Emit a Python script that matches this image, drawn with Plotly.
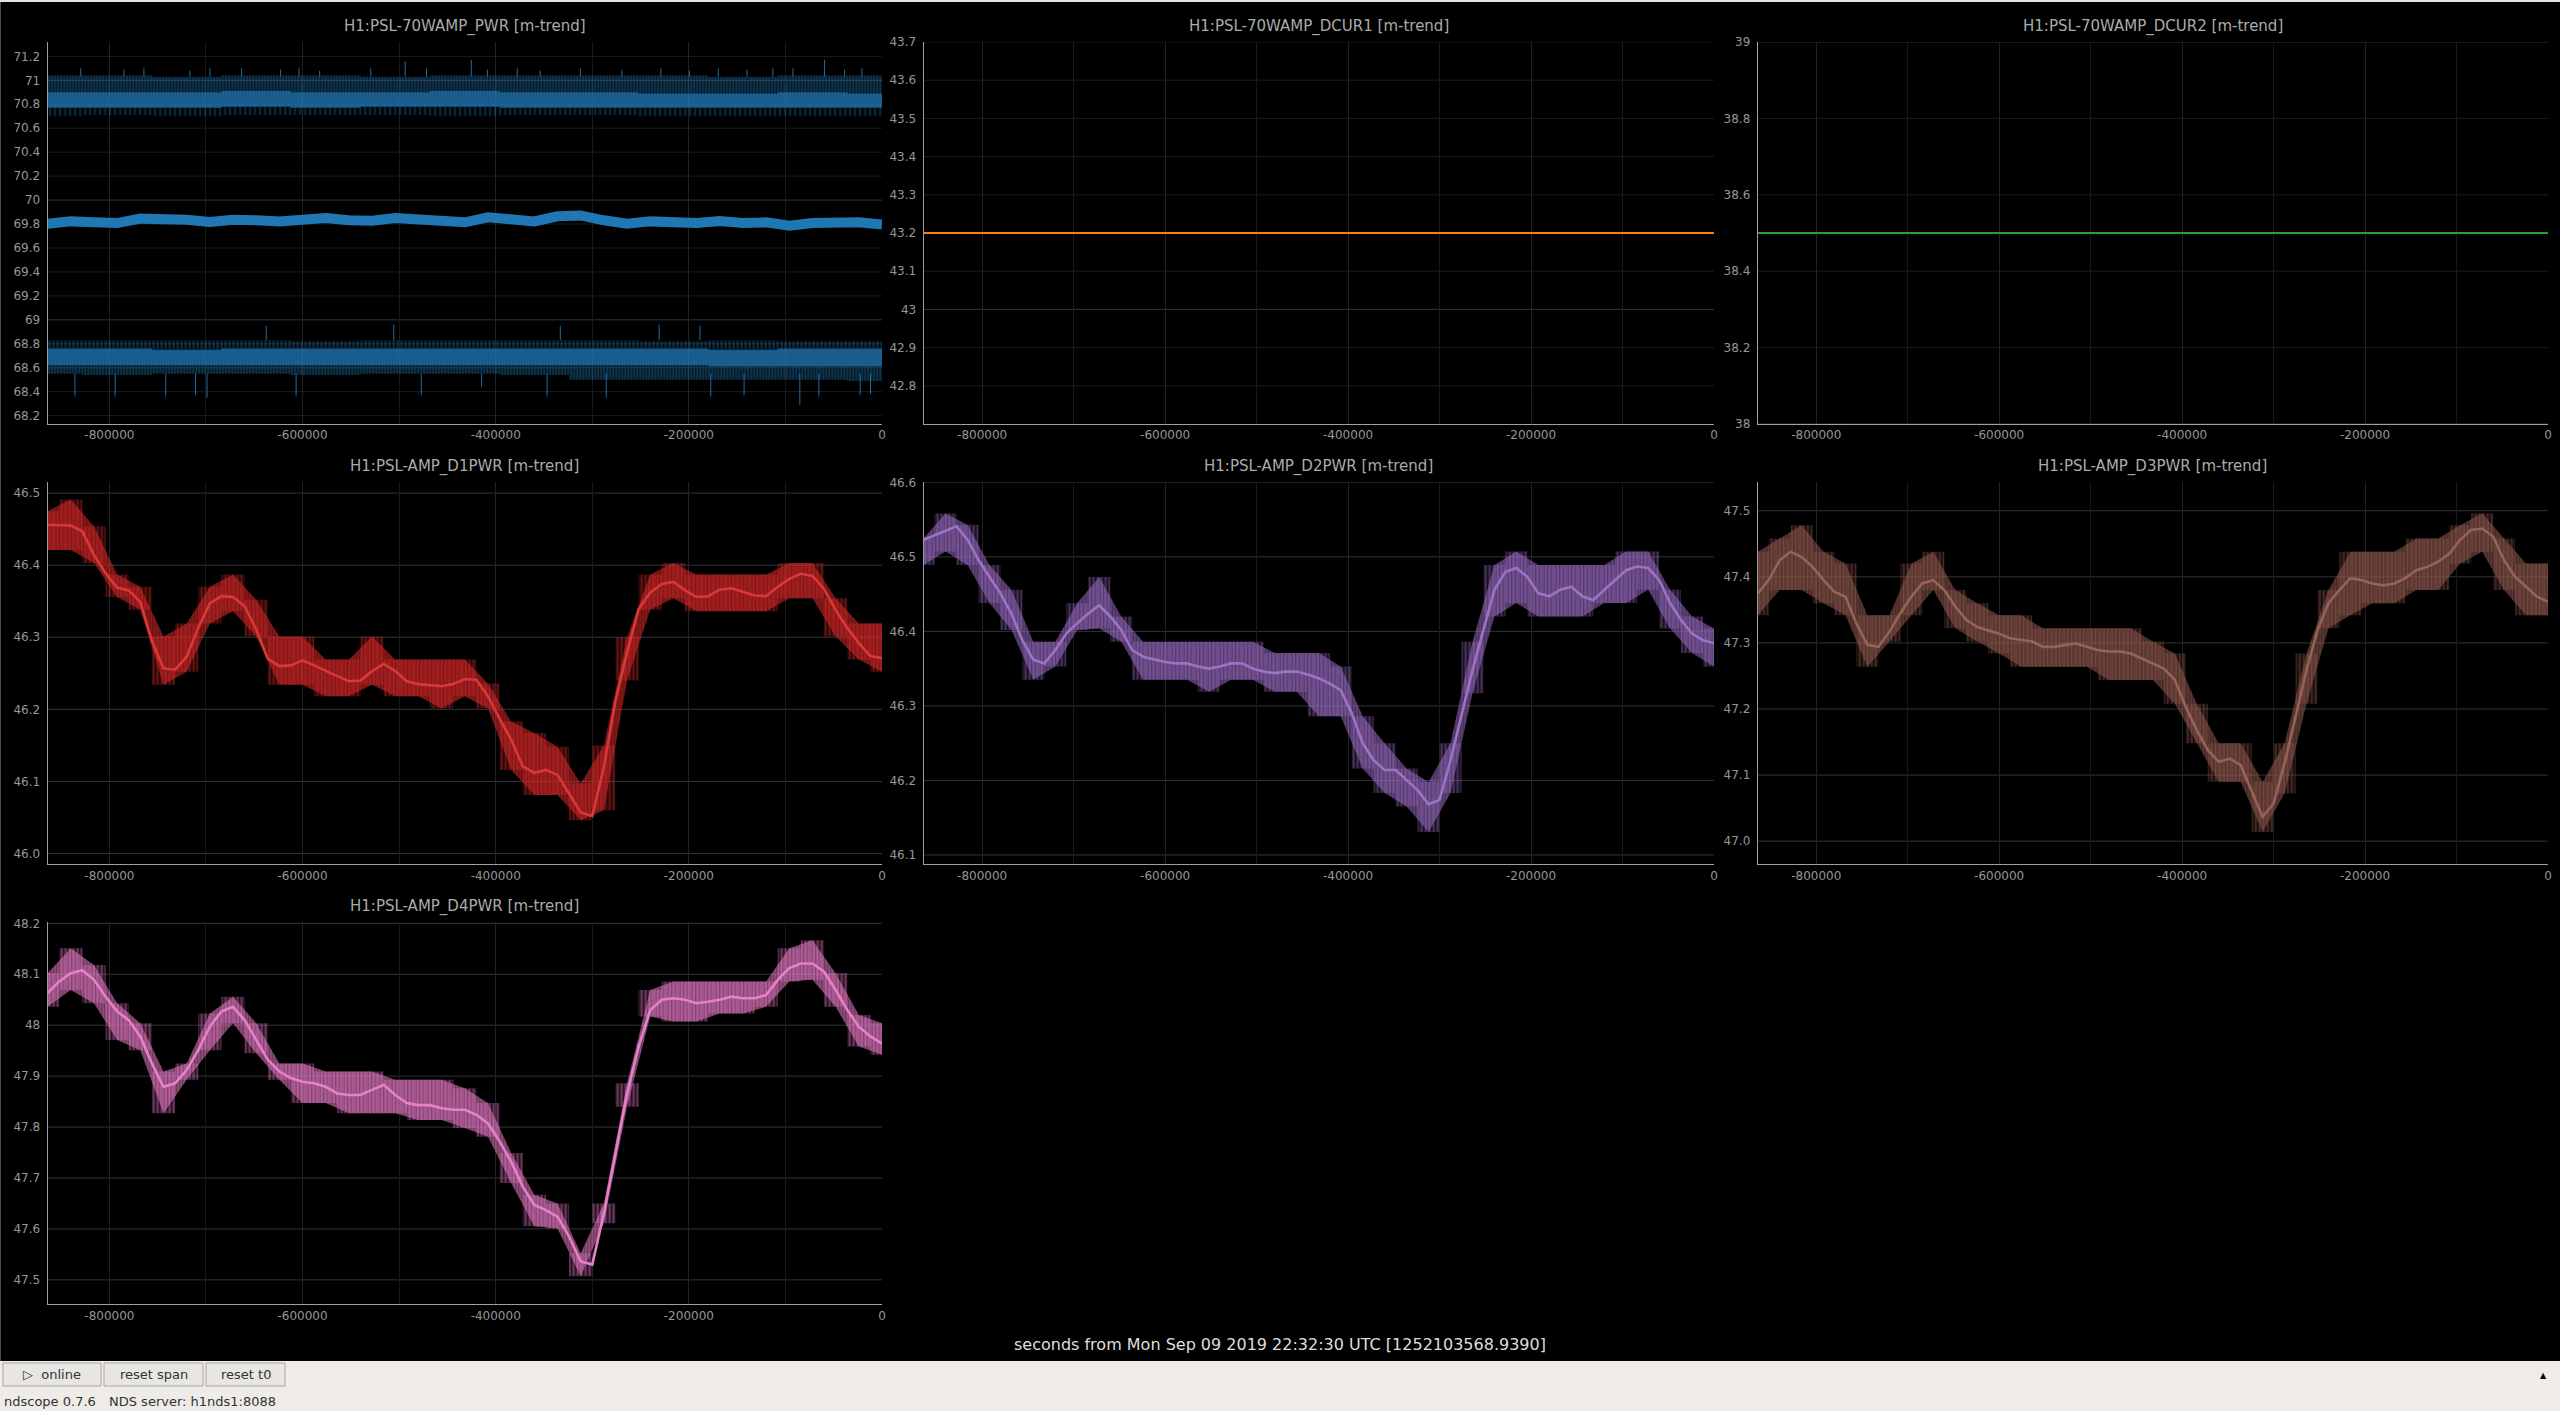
import plotly.graph_objects as go

W, H = 2560, 1411

# ---------------- data (time in kiloseconds before t0) ----------------
T12 = list(range(-864, 1, 12))
T24 = list(range(-864, 1, 24))
T72 = list(range(-864, 1, 72))

X_TICKS = [-800000, -600000, -400000, -200000, 0]
X_TICK_TEXT = ["-800000", "-600000", "-400000", "-200000", "0"]
X_MINOR = list(range(-800000, 1, 100000))

# H1:PSL-70WAMP_PWR
PWR_MEAN = [69.803, 69.822, 69.814, 69.808, 69.845, 69.850, 69.836, 69.817, 69.836, 69.831,
            69.822, 69.836, 69.850, 69.831, 69.828, 69.850, 69.836, 69.822, 69.814, 69.856,
            69.842, 69.822, 69.864, 69.872, 69.831, 69.803, 69.822, 69.814, 69.808, 69.825,
            69.808, 69.814, 69.786, 69.808, 69.814, 69.814, 69.795]
PWR_MAX_TOP = [71.04, 71.04, 71.03, 71.04, 71.04, 71.03, 71.04, 71.04, 71.04, 71.04, 71.03, 71.04, 71.04]
PWR_MAX_CORE_HI = [70.90, 70.90, 70.90, 70.91, 70.90, 70.90, 70.91, 70.90, 70.90, 70.89, 70.89, 70.90, 70.89]
PWR_MAX_CORE_LO = [70.77, 70.77, 70.77, 70.78, 70.77, 70.78, 70.78, 70.77, 70.77, 70.77, 70.77, 70.77, 70.77]
PWR_MAX_BOT = [70.70, 70.71, 70.70, 70.71, 70.71, 70.71, 70.70, 70.71, 70.71, 70.70, 70.70, 70.70, 70.70]
PWR_MIN_TOP = [68.83, 68.83, 68.83, 68.83, 68.82, 68.83, 68.83, 68.83, 68.83, 68.82, 68.83, 68.82, 68.82]
PWR_MIN_CORE_HI = [68.76, 68.76, 68.75, 68.76, 68.76, 68.76, 68.76, 68.76, 68.76, 68.76, 68.75, 68.76, 68.76]
PWR_MIN_CORE_LO = [68.62, 68.62, 68.62, 68.62, 68.62, 68.62, 68.62, 68.62, 68.62, 68.62, 68.61, 68.61, 68.61]
PWR_MIN_BOT = [68.55, 68.54, 68.55, 68.55, 68.54, 68.55, 68.55, 68.54, 68.50, 68.50, 68.50, 68.50, 68.49]
# isolated spikes: time (ks), start value, end value
PWR_SPIKE_T = [-829.7, -785.1, -764.3, -716.7, -695.9, -663.2, -622.8, -603.7, -582.3, -529.4,
               -493.7, -471.7, -425.3, -408.6, -377.7, -353.9, -312.3, -269.4, -229.0, -199.3,
               -169.5, -139.8, -113.0, -92.2, -59.5, -38.7, -20.8,
               -835.7, -794.1, -741.7, -710.8, -698.9, -606.7, -477.0, -414.6, -346.8, -285.5,
               -177.3, -142.8, -85.1, -65.4, -22.6, -11.9,
               -637.6, -505.6, -333.1, -230.8, -188.5]
PWR_SPIKE_Y0 = [71.03] * 27 + [68.55] * 16 + [68.83] * 5
PWR_SPIKE_Y1 = [71.10, 71.09, 71.10, 71.08, 71.10, 71.10, 71.09, 71.10, 71.08, 71.10,
                71.16, 71.10, 71.17, 71.09, 71.10, 71.08, 71.10, 71.09, 71.10, 71.08,
                71.10, 71.09, 71.10, 71.10, 71.17, 71.09, 71.10,
                68.36, 68.36, 68.36, 68.37, 68.35, 68.36, 68.37, 68.44, 68.36, 68.35,
                68.36, 68.37, 68.29, 68.36, 68.37, 68.38,
                68.95, 68.96, 68.95, 68.96, 68.95]

# H1:PSL-70WAMP_DCUR1 / DCUR2
DCUR1 = [43.2] * 13
DCUR2 = [38.5] * 13

# H1:PSL-AMP_D1PWR .. D4PWR (mean on T12, max/min on T24)
D1_MEAN = [46.456, 46.455, 46.455, 46.447, 46.414, 46.389, 46.369, 46.365, 46.349, 46.295,
           46.257, 46.255, 46.273, 46.313, 46.347, 46.357, 46.356, 46.343, 46.311, 46.270,
           46.260, 46.261, 46.268, 46.261, 46.253, 46.246, 46.239, 46.240, 46.253, 46.263,
           46.253, 46.239, 46.235, 46.233, 46.232, 46.235, 46.242, 46.241, 46.218, 46.187,
           46.158, 46.121, 46.112, 46.116, 46.109, 46.083, 46.057, 46.052, 46.120, 46.212,
           46.279, 46.339, 46.362, 46.374, 46.377, 46.365, 46.356, 46.357, 46.366, 46.368,
           46.363, 46.358, 46.357, 46.370, 46.381, 46.388, 46.385, 46.367, 46.338, 46.313,
           46.292, 46.274, 46.271]
D1_MAX = [46.475, 46.491, 46.454, 46.387, 46.370, 46.301, 46.319, 46.370, 46.387, 46.352,
          46.301, 46.301, 46.269, 46.269, 46.301, 46.269, 46.269, 46.269, 46.269, 46.236,
          46.183, 46.167, 46.148, 46.097, 46.150, 46.300, 46.387, 46.403, 46.387, 46.387,
          46.387, 46.387, 46.403, 46.403, 46.354, 46.319, 46.319]
D1_MIN = [46.421, 46.421, 46.403, 46.356, 46.338, 46.234, 46.252, 46.319, 46.336, 46.301,
          46.234, 46.234, 46.218, 46.218, 46.234, 46.218, 46.218, 46.201, 46.218, 46.201,
          46.116, 46.081, 46.081, 46.046, 46.060, 46.240, 46.338, 46.354, 46.336, 46.336,
          46.336, 46.336, 46.354, 46.354, 46.301, 46.269, 46.252]

D2_MEAN = [46.523, 46.529, 46.534, 46.541, 46.523, 46.496, 46.473, 46.451, 46.424, 46.388,
           46.362, 46.357, 46.375, 46.397, 46.411, 46.424, 46.435, 46.420, 46.402, 46.375,
           46.366, 46.362, 46.359, 46.357, 46.357, 46.353, 46.350, 46.353, 46.357, 46.357,
           46.350, 46.346, 46.344, 46.346, 46.346, 46.342, 46.337, 46.330, 46.321, 46.290,
           46.250, 46.227, 46.214, 46.214, 46.201, 46.187, 46.168, 46.174, 46.227, 46.286,
           46.348, 46.402, 46.456, 46.480, 46.485, 46.473, 46.451, 46.447, 46.456, 46.460,
           46.447, 46.442, 46.456, 46.469, 46.482, 46.487, 46.485, 46.469, 46.438, 46.415,
           46.397, 46.388, 46.384]
D2_MAX = [46.525, 46.558, 46.543, 46.489, 46.456, 46.386, 46.386, 46.438, 46.473, 46.420,
          46.386, 46.386, 46.386, 46.386, 46.386, 46.386, 46.371, 46.371, 46.371, 46.353,
          46.286, 46.250, 46.216, 46.198, 46.250, 46.386, 46.489, 46.507, 46.489, 46.489,
          46.489, 46.489, 46.507, 46.507, 46.456, 46.420, 46.404]
D2_MIN = [46.489, 46.507, 46.489, 46.438, 46.402, 46.335, 46.353, 46.402, 46.404, 46.386,
          46.335, 46.335, 46.335, 46.319, 46.335, 46.335, 46.319, 46.319, 46.286, 46.286,
          46.216, 46.183, 46.165, 46.131, 46.183, 46.317, 46.420, 46.438, 46.420, 46.420,
          46.420, 46.438, 46.438, 46.456, 46.404, 46.371, 46.353]

D3_MEAN = [47.375, 47.395, 47.425, 47.438, 47.430, 47.415, 47.395, 47.377, 47.370, 47.329,
           47.297, 47.294, 47.317, 47.345, 47.370, 47.390, 47.395, 47.380, 47.355, 47.335,
           47.324, 47.319, 47.314, 47.307, 47.304, 47.302, 47.294, 47.294, 47.297, 47.299,
           47.294, 47.289, 47.287, 47.287, 47.284, 47.276, 47.269, 47.261, 47.244, 47.203,
           47.168, 47.138, 47.120, 47.125, 47.115, 47.077, 47.037, 47.057, 47.118, 47.188,
           47.259, 47.319, 47.360, 47.380, 47.398, 47.395, 47.390, 47.387, 47.390, 47.398,
           47.410, 47.415, 47.423, 47.435, 47.456, 47.471, 47.473, 47.461, 47.425, 47.400,
           47.385, 47.370, 47.362]
D3_MAX = [47.438, 47.458, 47.478, 47.438, 47.420, 47.342, 47.342, 47.420, 47.438, 47.380,
          47.360, 47.342, 47.342, 47.322, 47.322, 47.322, 47.322, 47.322, 47.302, 47.284,
          47.208, 47.148, 47.148, 47.090, 47.148, 47.284, 47.380, 47.438, 47.438, 47.438,
          47.458, 47.458, 47.478, 47.496, 47.458, 47.420, 47.420]
D3_MIN = [47.342, 47.380, 47.380, 47.360, 47.342, 47.264, 47.302, 47.342, 47.380, 47.322,
          47.302, 47.284, 47.264, 47.264, 47.264, 47.264, 47.244, 47.244, 47.244, 47.208,
          47.148, 47.090, 47.090, 47.014, 47.072, 47.208, 47.322, 47.342, 47.360, 47.360,
          47.380, 47.380, 47.420, 47.438, 47.380, 47.342, 47.342]

D4_MEAN = [48.063, 48.086, 48.102, 48.108, 48.089, 48.056, 48.027, 48.010, 47.978, 47.925,
           47.879, 47.886, 47.912, 47.951, 47.997, 48.027, 48.036, 48.010, 47.971, 47.932,
           47.909, 47.896, 47.889, 47.886, 47.879, 47.866, 47.863, 47.863, 47.873, 47.883,
           47.863, 47.847, 47.843, 47.843, 47.837, 47.834, 47.834, 47.824, 47.807, 47.772,
           47.732, 47.683, 47.647, 47.637, 47.624, 47.585, 47.536, 47.530, 47.631, 47.749,
           47.866, 47.958, 48.030, 48.050, 48.053, 48.050, 48.043, 48.046, 48.050, 48.056,
           48.053, 48.053, 48.059, 48.089, 48.112, 48.121, 48.121, 48.105, 48.069, 48.030,
           47.997, 47.978, 47.964]
D4_MAX = [48.102, 48.151, 48.118, 48.043, 48.004, 47.909, 47.925, 48.023, 48.056, 48.004,
          47.925, 47.925, 47.909, 47.909, 47.909, 47.893, 47.893, 47.893, 47.876, 47.847,
          47.749, 47.667, 47.650, 47.552, 47.650, 47.886, 48.069, 48.086, 48.086, 48.086,
          48.086, 48.086, 48.151, 48.167, 48.102, 48.020, 48.004]
D4_MIN = [48.036, 48.069, 48.043, 47.971, 47.951, 47.827, 47.893, 47.951, 48.004, 47.945,
          47.893, 47.847, 47.847, 47.827, 47.827, 47.827, 47.814, 47.814, 47.798, 47.781,
          47.690, 47.605, 47.601, 47.507, 47.611, 47.840, 48.017, 48.007, 48.007, 48.023,
          48.023, 48.036, 48.086, 48.089, 48.036, 47.958, 47.942]

# ---------------- styling ----------------
FONT = "DejaVu Sans"
TICK_COLOR = "#969696"
TITLE_COLOR = "#ababab"
GRID_MAJOR = "#343434"
GRID_MINOR = "#1c1c1c"
XGRID = "#222222"
AXIS_LINE = "#a0a0a0"

COLS = [(47.6, 882.0), (923.6, 1714.0), (1757.7, 2548.0)]
ROWS = [(42.0, 424.0), (482.3, 864.3), (922.3, 1304.3)]


def px(x):
    return x / W


def py(y):
    return 1 - y / H


def rgba(c, a):
    return "rgba(%d,%d,%d,%.3f)" % (c[0], c[1], c[2], a)


def lighten(c, f):
    return "rgb(%d,%d,%d)" % tuple(int(v + (255 - v) * f) for v in c)


BLUE = (31, 119, 180)
ORANGE = (255, 127, 14)
GREEN = (44, 160, 44)
RED = (214, 39, 40)
PURPLE = (148, 103, 189)
BROWN = (140, 86, 75)
PINK = (227, 119, 194)

PANELS = [
    dict(title="H1:PSL-70WAMP_PWR [m-trend]", row=0, col=0, yrange=[68.13, 71.32],
         yticks=[68.2, 68.4, 68.6, 68.8, 69.0, 69.2, 69.4, 69.6, 69.8, 70.0, 70.2, 70.4, 70.6, 70.8, 71.0, 71.2],
         ylabels=["68.2", "68.4", "68.6", "68.8", "69", "69.2", "69.4", "69.6", "69.8", "70", "70.2",
                  "70.4", "70.6", "70.8", "71", "71.2"],
         major=[69.0, 70.0, 71.0]),
    dict(title="H1:PSL-70WAMP_DCUR1 [m-trend]", row=0, col=1, yrange=[42.7, 43.7],
         yticks=[42.8, 42.9, 43.0, 43.1, 43.2, 43.3, 43.4, 43.5, 43.6, 43.7],
         ylabels=["42.8", "42.9", "43", "43.1", "43.2", "43.3", "43.4", "43.5", "43.6", "43.7"],
         major=[43.0]),
    dict(title="H1:PSL-70WAMP_DCUR2 [m-trend]", row=0, col=2, yrange=[38.0, 39.0],
         yticks=[38.0, 38.2, 38.4, 38.6, 38.8, 39.0],
         ylabels=["38", "38.2", "38.4", "38.6", "38.8", "39"],
         major=[38.0, 39.0]),
    dict(title="H1:PSL-AMP_D1PWR [m-trend]", row=1, col=0, yrange=[45.985, 46.515],
         yticks=[46.0, 46.1, 46.2, 46.3, 46.4, 46.5],
         ylabels=["46.0", "46.1", "46.2", "46.3", "46.4", "46.5"],
         major=[46.0, 46.1, 46.2, 46.3, 46.4, 46.5],
         mean=D1_MEAN, vmax=D1_MAX, vmin=D1_MIN, color=RED),
    dict(title="H1:PSL-AMP_D2PWR [m-trend]", row=1, col=1, yrange=[46.0875, 46.6],
         yticks=[46.1, 46.2, 46.3, 46.4, 46.5, 46.6],
         ylabels=["46.1", "46.2", "46.3", "46.4", "46.5", "46.6"],
         major=[46.1, 46.2, 46.3, 46.4, 46.5, 46.6],
         mean=D2_MEAN, vmax=D2_MAX, vmin=D2_MIN, color=PURPLE),
    dict(title="H1:PSL-AMP_D3PWR [m-trend]", row=1, col=2, yrange=[46.965, 47.543],
         yticks=[47.0, 47.1, 47.2, 47.3, 47.4, 47.5],
         ylabels=["47.0", "47.1", "47.2", "47.3", "47.4", "47.5"],
         major=[47.0, 47.1, 47.2, 47.3, 47.4, 47.5],
         mean=D3_MEAN, vmax=D3_MAX, vmin=D3_MIN, color=BROWN),
    dict(title="H1:PSL-AMP_D4PWR [m-trend]", row=2, col=0, yrange=[47.452, 48.202],
         yticks=[47.5, 47.6, 47.7, 47.8, 47.9, 48.0, 48.1, 48.2],
         ylabels=["47.5", "47.6", "47.7", "47.8", "47.9", "48", "48.1", "48.2"],
         major=[47.5, 47.6, 47.7, 47.8, 47.9, 48.0, 48.1, 48.2],
         mean=D4_MEAN, vmax=D4_MAX, vmin=D4_MIN, color=PINK),
]

fig = go.Figure()
layout = dict(
    width=W, height=H, autosize=False,
    margin=dict(l=0, r=0, t=0, b=0, pad=0, autoexpand=False),
    paper_bgcolor="#000000", plot_bgcolor="#000000",
    showlegend=False,
    font=dict(family=FONT, size=12, color=TICK_COLOR),
)
shapes = []
annotations = []


def ks(ts):
    return [t * 1000 for t in ts]


def T_for(arr):
    return {13: T72, 37: T24, 73: T12}[len(arr)]


def band(xa, ya, lo, hi, fc, pattern=None, shape="linear"):
    fig.add_trace(go.Scatter(x=ks(T_for(lo)), y=lo, xaxis=xa, yaxis=ya, mode="lines",
                             line=dict(width=0, shape=shape), hoverinfo="skip"))
    kw = dict(fill="tonexty", fillcolor=fc)
    if pattern is not None:
        kw["fillpattern"] = pattern
    fig.add_trace(go.Scatter(x=ks(T_for(hi)), y=hi, xaxis=xa, yaxis=ya, mode="lines",
                             line=dict(width=0, shape=shape), hoverinfo="skip", **kw))


for i, p in enumerate(PANELS, start=1):
    xa = "x" if i == 1 else "x%d" % i
    ya = "y" if i == 1 else "y%d" % i
    x0, x1 = COLS[p["col"]]
    y0, y1 = ROWS[p["row"]]
    layout["xaxis" if i == 1 else "xaxis%d" % i] = dict(
        domain=[px(x0), px(x1)], anchor=ya, range=[-864000, 0],
        tickmode="array", tickvals=X_TICKS, ticktext=X_TICK_TEXT,
        showgrid=True, gridcolor=XGRID, gridwidth=1, zeroline=False,
        showline=True, linecolor=AXIS_LINE, linewidth=1, ticks="",
        tickfont=dict(family=FONT, size=12, color=TICK_COLOR),
        minor=dict(tickvals=X_MINOR, showgrid=True, gridcolor="#191919", ticks=""),
        fixedrange=True,
    )
    layout["yaxis" if i == 1 else "yaxis%d" % i] = dict(
        domain=[py(y1), py(y0)], anchor=xa, range=p["yrange"],
        tickmode="array", tickvals=p["yticks"], ticktext=p["ylabels"],
        showgrid=False, zeroline=False,
        showline=True, linecolor=AXIS_LINE, linewidth=1, ticks="",
        ticklabelstandoff=4,
        tickfont=dict(family=FONT, size=12, color=TICK_COLOR),
        fixedrange=True,
    )
    for v in p["yticks"]:
        shapes.append(dict(type="line", xref="%s domain" % xa, yref=ya, x0=0, x1=1, y0=v, y1=v,
                           line=dict(color=GRID_MAJOR if v in p["major"] else GRID_MINOR, width=1),
                           layer="below"))
    annotations.append(dict(text=p["title"], x=px((x0 + x1) / 2), y=py(y0 - 15.5), xref="paper",
                            yref="paper", showarrow=False, xanchor="center", yanchor="middle",
                            font=dict(family=FONT, size=15, color=TITLE_COLOR)))

    if "mean" in p:
        c = p["color"]
        # continuous swath (covers the steep parts)
        band(xa, ya, p["vmin"], p["vmax"], rgba(c, 0.45),
             pattern=dict(shape="|", fgcolor=rgba(c, 1.0), bgcolor=rgba(c, 0.42), size=3, solidity=0.5))
        # quantised min/max blocks
        band(xa, ya, p["vmin"], p["vmax"], rgba(c, 0.3),
             pattern=dict(shape="|", fgcolor=rgba(c, 0.9), bgcolor=rgba(c, 0.18), size=4, solidity=0.4),
             shape="hvh")
        fig.add_trace(go.Scatter(x=ks(T12), y=p["mean"], xaxis=xa, yaxis=ya, mode="lines",
                                 line=dict(color=lighten(c, 0.08), width=2.6), hoverinfo="skip"))

# --- PWR panel traces ---
band("x", "y", PWR_MAX_CORE_HI, PWR_MAX_TOP, rgba(BLUE, 0.3),
     pattern=dict(shape="|", fgcolor=rgba(BLUE, 0.95), bgcolor=rgba(BLUE, 0.16), size=3, solidity=0.45),
     shape="hvh")
band("x", "y", PWR_MAX_CORE_LO, PWR_MAX_CORE_HI, rgba(BLUE, 0.8),
     pattern=dict(shape="|", fgcolor=rgba(BLUE, 1.0), bgcolor=rgba(BLUE, 0.7), size=3, solidity=0.6),
     shape="hvh")
band("x", "y", PWR_MAX_BOT, PWR_MAX_CORE_LO, rgba(BLUE, 0.3),
     pattern=dict(shape="|", fgcolor=rgba(BLUE, 0.85), bgcolor=rgba(BLUE, 0.04), size=5, solidity=0.3),
     shape="hvh")
band("x", "y", PWR_MIN_CORE_HI, PWR_MIN_TOP, rgba(BLUE, 0.3),
     pattern=dict(shape="|", fgcolor=rgba(BLUE, 0.9), bgcolor=rgba(BLUE, 0.08), size=4, solidity=0.35),
     shape="hvh")
band("x", "y", PWR_MIN_CORE_LO, PWR_MIN_CORE_HI, rgba(BLUE, 0.8),
     pattern=dict(shape="|", fgcolor=rgba(BLUE, 1.0), bgcolor=rgba(BLUE, 0.7), size=3, solidity=0.6),
     shape="hvh")
band("x", "y", PWR_MIN_BOT, PWR_MIN_CORE_LO, rgba(BLUE, 0.3),
     pattern=dict(shape="|", fgcolor=rgba(BLUE, 0.95), bgcolor=rgba(BLUE, 0.14), size=3, solidity=0.45),
     shape="hvh")

sx, sy = [], []
for t, a, b in zip(PWR_SPIKE_T, PWR_SPIKE_Y0, PWR_SPIKE_Y1):
    sx += [t * 1000, t * 1000, None]
    sy += [a, b, None]
fig.add_trace(go.Scatter(x=sx, y=sy, xaxis="x", yaxis="y", mode="lines",
                         line=dict(color=rgba(BLUE, 0.9), width=1), hoverinfo="skip"))
fig.add_trace(go.Scatter(x=ks(T24), y=PWR_MEAN, xaxis="x", yaxis="y", mode="lines",
                         line=dict(color=rgba(BLUE, 1.0), width=10), hoverinfo="skip"))

fig.add_trace(go.Scatter(x=ks(T72), y=DCUR1, xaxis="x2", yaxis="y2", mode="lines",
                         line=dict(color=rgba(ORANGE, 1.0), width=2), hoverinfo="skip"))
fig.add_trace(go.Scatter(x=ks(T72), y=DCUR2, xaxis="x3", yaxis="y3", mode="lines",
                         line=dict(color=rgba(GREEN, 1.0), width=2), hoverinfo="skip"))

# --- window chrome: x label, toolbar, status line ---
annotations.append(dict(text="seconds from Mon Sep 09 2019 22:32:30 UTC [1252103568.9390]",
                        x=px(1280), y=py(1344), xref="paper", yref="paper", showarrow=False,
                        xanchor="center", yanchor="middle",
                        font=dict(family=FONT, size=16, color="#dedede")))

shapes.append(dict(type="rect", xref="paper", yref="paper", x0=0, x1=1, y0=0, y1=py(1361),
                   fillcolor="#efebe7", line=dict(width=0), layer="above"))
shapes.append(dict(type="rect", xref="paper", yref="paper", x0=0, x1=1, y0=py(2), y1=1,
                   fillcolor="#e4e4e4", line=dict(width=0), layer="above"))
shapes.append(dict(type="rect", xref="paper", yref="paper", x0=0, x1=px(1), y0=py(1361), y1=py(2),
                   fillcolor="#4a4a4a", line=dict(width=0), layer="above"))

BUTTONS = [("\u25b7  online", 3, 101), ("reset span", 104, 203), ("reset t0", 206, 285)]
for label, bx0, bx1 in BUTTONS:
    shapes.append(dict(type="rect", xref="paper", yref="paper", x0=px(bx0), x1=px(bx1),
                       y0=py(1386), y1=py(1363), fillcolor="#e8e6e3",
                       line=dict(color="#aaa7a3", width=1), layer="above"))
    annotations.append(dict(text=label, x=px((bx0 + bx1) / 2), y=py(1374.5), xref="paper",
                            yref="paper", showarrow=False, xanchor="center", yanchor="middle",
                            font=dict(family=FONT, size=13, color="#2e3436")))

annotations.append(dict(text="ndscope 0.7.6", x=px(2), y=py(1401), xref="paper", yref="paper",
                        showarrow=False, xanchor="left", yanchor="middle",
                        font=dict(family=FONT, size=13, color="#2e3436")))
annotations.append(dict(text="NDS server: h1nds1:8088", x=px(107), y=py(1401), xref="paper",
                        yref="paper", showarrow=False, xanchor="left", yanchor="middle",
                        font=dict(family=FONT, size=13, color="#2e3436")))
annotations.append(dict(text="\u25b2", x=px(2543), y=py(1375), xref="paper", yref="paper",
                        showarrow=False, xanchor="center", yanchor="middle",
                        font=dict(family=FONT, size=8, color="#000000")))

layout["shapes"] = shapes
layout["annotations"] = annotations
fig.update_layout(**layout)

fig.write_html("out.html", config={"displayModeBar": False},
               post_script="document.body.style.margin='0';document.body.style.overflow='hidden';")
